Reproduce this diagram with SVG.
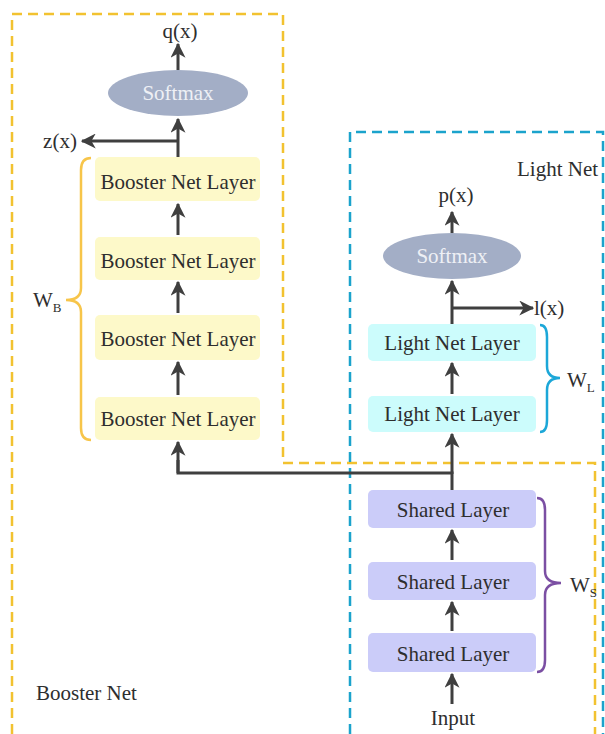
<svg xmlns="http://www.w3.org/2000/svg" width="605" height="734" viewBox="0 0 605 734">
<style>
text{font-family:"Liberation Serif","Times New Roman",serif;fill:#2e2e2e;font-size:21px}
.c{text-anchor:middle}
.sm{fill:#eef0f5}
.bb{fill:#fdf9c9}
.lb{fill:#ccfcfc}
.sb{fill:#cbccf9}
.el{fill:#a3aec6}
.ar{stroke:#3f3f3f;stroke-width:3;fill:none}
.arh{stroke:#3f3f3f;stroke-width:3;fill:none;marker-end:url(#ah)}
.dy{stroke:#f2c230;stroke-width:2.5;fill:none;stroke-dasharray:10 6}
.db{stroke:#1ba3cc;stroke-width:2.5;fill:none;stroke-dasharray:10 6}
.br{fill:none;stroke-width:2.5}
.sub{font-size:13px}
</style>
<defs>
<marker id="ah" viewBox="0 0 12 12" refX="11" refY="6" markerWidth="5" markerHeight="5" orient="auto" markerUnits="strokeWidth">
<path d="M0,0 L12,6 L0,12 L3.5,6 z" fill="#3f3f3f"/>
</marker>
</defs>
<rect width="605" height="734" fill="#ffffff"/>
<g id="booster-net-frame">
<path class="dy" d="M12,734 L12,14 L283,14 L283,463 L595,463 L595,734"/>
<text x="36" y="700">Booster Net</text>
</g>
<g id="light-net-frame">
<path class="db" d="M350,734 L350,132 L603,132 L603,734"/>
<text x="517" y="176">Light Net</text>
</g>
<g id="connectors">
<path class="arh" d="M178,70 L178,44"/>
<path class="ar" d="M178,157 L178,141"/>
<path class="arh" d="M178,141 L178,119"/>
<path class="arh" d="M178,141 L82,141"/>
<path class="arh" d="M178,235 L178,204"/>
<path class="arh" d="M178,313 L178,282"/>
<path class="arh" d="M178,395 L178,362"/>
<path class="ar" d="M452,490 L452,473 L178,473 L178,460"/>
<path class="arh" d="M178,473 L178,442"/>
<path class="arh" d="M452,474 L452,434"/>
<path class="arh" d="M452,394 L452,363"/>
<path class="ar" d="M452,324 L452,308"/>
<path class="arh" d="M452,308 L452,281"/>
<path class="arh" d="M452,308 L533,308"/>
<path class="arh" d="M452,233 L452,212"/>
<path class="arh" d="M452,560 L452,530"/>
<path class="arh" d="M452,631 L452,602"/>
<path class="arh" d="M452,704 L452,674"/>
</g>
<g id="q-out"><text class="c" x="180" y="38">q(x)</text></g>
<g id="z-out"><text class="c" x="60" y="148">z(x)</text></g>
<g id="booster-softmax">
<ellipse class="el" cx="178" cy="93" rx="70" ry="23"/>
<text class="c sm" x="178" y="100">Softmax</text>
</g>
<g id="booster-layer-1"><rect class="bb" x="95" y="157" width="165" height="44" rx="5"/><text class="c" x="178" y="189">Booster Net Layer</text></g>
<g id="booster-layer-2"><rect class="bb" x="95" y="237" width="165" height="43" rx="5"/><text class="c" x="178" y="268">Booster Net Layer</text></g>
<g id="booster-layer-3"><rect class="bb" x="95" y="315" width="165" height="45" rx="5"/><text class="c" x="178" y="346">Booster Net Layer</text></g>
<g id="booster-layer-4"><rect class="bb" x="95" y="397" width="165" height="43" rx="5"/><text class="c" x="178" y="426">Booster Net Layer</text></g>
<g id="wb-brace">
<path class="br" stroke="#f7c54a" d="M91,158 Q81,158 81,170 L81,288 Q81,300 66,300 Q81,300 81,312 L81,428 Q81,440 91,440"/>
<text x="33" y="307">W<tspan class="sub" dy="5">B</tspan></text>
</g>
<g id="p-out"><text class="c" x="456" y="202">p(x)</text></g>
<g id="l-out"><text x="534" y="315">l(x)</text></g>
<g id="light-softmax">
<ellipse class="el" cx="452" cy="256" rx="69" ry="23"/>
<text class="c sm" x="452" y="263">Softmax</text>
</g>
<g id="light-layer-1"><rect class="lb" x="368" y="324" width="168" height="37" rx="5"/><text class="c" x="452" y="350">Light Net Layer</text></g>
<g id="light-layer-2"><rect class="lb" x="368" y="396" width="168" height="36" rx="5"/><text class="c" x="452" y="421">Light Net Layer</text></g>
<g id="wl-brace">
<path class="br" stroke="#1ca7d8" d="M540,325 Q547,325 547,337 L547,366 Q547,378 560,378 Q547,378 547,390 L547,420 Q547,432 540,432"/>
<text x="567" y="387">W<tspan class="sub" dy="5">L</tspan></text>
</g>
<g id="shared-layer-1"><rect class="sb" x="368" y="490" width="168" height="38" rx="5"/><text class="c" x="453" y="517">Shared Layer</text></g>
<g id="shared-layer-2"><rect class="sb" x="368" y="562" width="168" height="38" rx="5"/><text class="c" x="453" y="589">Shared Layer</text></g>
<g id="shared-layer-3"><rect class="sb" x="368" y="633" width="168" height="39" rx="5"/><text class="c" x="453" y="661">Shared Layer</text></g>
<g id="ws-brace">
<path class="br" stroke="#7b4fa3" d="M537,498 Q545,498 545,510 L545,571 Q545,583 561,583 Q545,583 545,595 L545,660 Q545,672 537,672"/>
<text x="570" y="592">W<tspan class="sub" dy="5">S</tspan></text>
</g>
<g id="input"><text class="c" x="453" y="725">Input</text></g>
</svg>
